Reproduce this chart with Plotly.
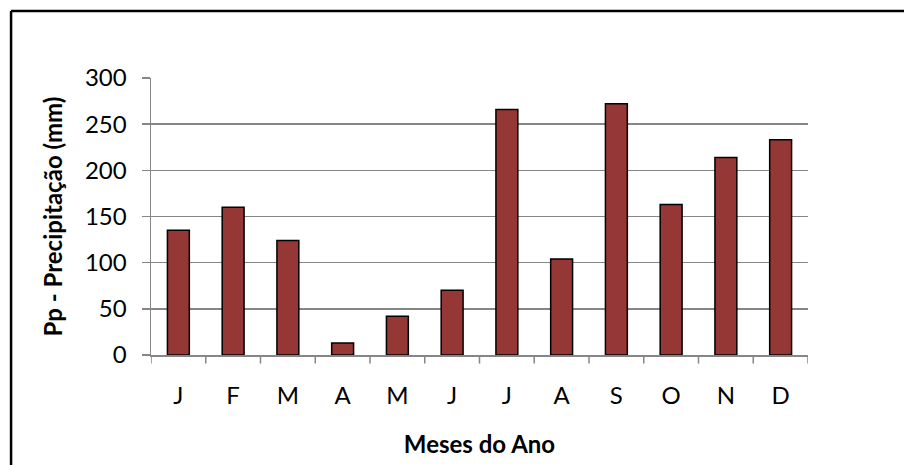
import plotly.graph_objects as go

months = ["J", "F", "M", "A", "M", "J", "J", "A", "S", "O", "N", "D"]
precip = [135, 160, 124, 13, 42, 70, 266, 104, 272, 163, 214, 233]
y_ticks = [0, 50, 100, 150, 200, 250, 300]

x_idx = list(range(len(months)))

fig = go.Figure()
fig.add_trace(go.Bar(
    x=x_idx, y=precip,
    marker=dict(color="#953735", line=dict(color="black", width=1.5)),
    width=0.4,
    hoverinfo="skip",
))

font_family = "Lato, 'Open Sans', sans-serif"

fig.update_layout(
    width=904, height=465,
    margin=dict(l=151, r=96, t=78, b=110),
    paper_bgcolor="white", plot_bgcolor="white",
    showlegend=False,
    font=dict(family=font_family, size=24, color="black"),
    xaxis=dict(
        tickmode="array", tickvals=x_idx, ticktext=months,
        range=[-0.5, 11.5],
        showgrid=False, zeroline=False,
        showline=True, linecolor="#868686", linewidth=1.5,
        ticks="",
        ticklabelstandoff=19,
        title=dict(text="<b>Meses do Ano</b>", font=dict(size=24), standoff=28),
        fixedrange=True,
    ),
    yaxis=dict(
        range=[0, 300], tickvals=y_ticks,
        showgrid=True, gridcolor="#868686", gridwidth=1.5,
        zeroline=False,
        showline=True, linecolor="#868686", linewidth=1.5,
        ticks="outside", ticklen=8, tickcolor="#868686", tickwidth=1.5,
        ticklabelstandoff=10,
        title=dict(text="<b>Pp - Precipitação (mm)</b>", font=dict(size=24), standoff=15),
        fixedrange=True,
    ),
)

# category boundary tick marks on x axis
for b in [i - 0.5 for i in range(len(months) + 1)]:
    fig.add_shape(type="line", xref="x", yref="paper", x0=b, x1=b, y0=0, y1=-0.031,
                  line=dict(color="#868686", width=1.5))

# outer chart border: only the top and left edges are visible in the window
fig.add_shape(type="line", xref="paper", yref="paper",
              x0=-0.213, x1=1.5, y0=1.242, y1=1.242,
              line=dict(color="black", width=2.5), layer="below")
fig.add_shape(type="line", xref="paper", yref="paper",
              x0=-0.213, x1=-0.213, y0=1.242, y1=-0.6,
              line=dict(color="black", width=2.5), layer="below")

fig.write_html(
    "out.html",
    config={"displayModeBar": False, "staticPlot": True},
    post_script="document.body.style.margin='0';document.body.style.overflow='hidden';",
)
